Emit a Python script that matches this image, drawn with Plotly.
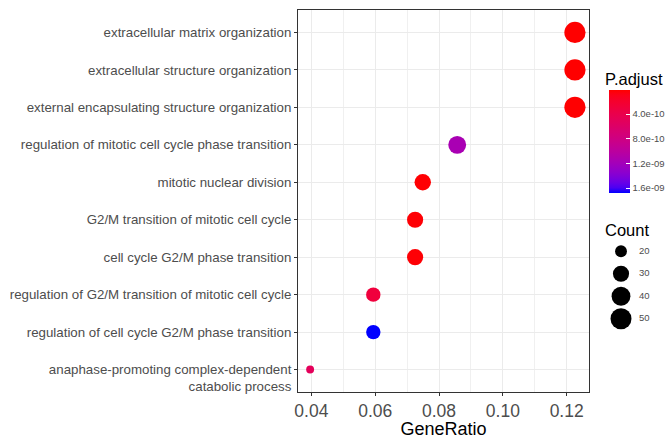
import numpy as np
import plotly.graph_objects as go

# ---------------- data ----------------
terms = [
    "extracellular matrix organization",
    "extracellular structure organization",
    "external encapsulating structure organization",
    "regulation of mitotic cell cycle phase transition",
    "mitotic nuclear division",
    "G2/M transition of mitotic cell cycle",
    "cell cycle G2/M phase transition",
    "regulation of G2/M transition of mitotic cell cycle",
    "regulation of cell cycle G2/M phase transition",
    "anaphase-promoting complex-dependent catabolic process",
]
term_labels = [
    "extracellular matrix organization",
    "extracellular structure organization",
    "external encapsulating structure organization",
    "regulation of mitotic cell cycle phase transition",
    "mitotic nuclear division",
    "G2/M transition of mitotic cell cycle",
    "cell cycle G2/M phase transition",
    "regulation of G2/M transition of mitotic cell cycle",
    "regulation of cell cycle G2/M phase transition",
    " <br>anaphase-promoting complex-dependent<br>catabolic process",
]
gene_ratio = [0.1226, 0.1226, 0.1226, 0.0857, 0.0749, 0.0725, 0.0725, 0.0594, 0.0594, 0.0396]
counts = [51, 51, 51, 36, 31, 30, 30, 25, 25, 17]
p_adjust = [1.0e-11, 1.1e-11, 1.2e-11, 1.15e-09, 2.0e-11, 2.5e-11, 2.5e-11, 3.0e-10, 1.68e-09, 5.0e-10]

x_ticks = [0.04, 0.06, 0.08, 0.10, 0.12]
x_tick_labels = ["0.04", "0.06", "0.08", "0.10", "0.12"]
cbar_ticks = [4.0e-10, 8.0e-10, 1.2e-09, 1.6e-09]
cbar_tick_labels = ["4.0e-10", "8.0e-10", "1.2e-09", "1.6e-09"]
size_legend_counts = [20, 30, 40, 50]

# ---------------- helpers (styling) ----------------
def _lin(c):
    c = c / 255.0
    return np.where(c <= 0.04045, c / 12.92, ((c + 0.055) / 1.055) ** 2.4)

def _unlin(c):
    c = np.where(c <= 0.0031308, 12.92 * c, 1.055 * np.power(np.clip(c, 0, None), 1 / 2.4) - 0.055)
    return np.clip(np.round(c * 255), 0, 255).astype(int)

M = np.array([[0.4124, 0.3576, 0.1805], [0.2126, 0.7152, 0.0722], [0.0193, 0.1192, 0.9505]])
MI = np.linalg.inv(M)
WHITE = np.array([0.95047, 1.0, 1.08883])

def rgb2lab(rgb):
    xyz = M @ _lin(np.array(rgb, float)) / WHITE
    f = np.where(xyz > 0.008856, np.cbrt(xyz), 7.787 * xyz + 16 / 116)
    return np.array([116 * f[1] - 16, 500 * (f[0] - f[1]), 200 * (f[1] - f[2])])

def lab2rgb(lab):
    fy = (lab[0] + 16) / 116
    fx = fy + lab[1] / 500
    fz = fy - lab[2] / 200
    f = np.array([fx, fy, fz])
    xyz = np.where(f ** 3 > 0.008856, f ** 3, (f - 16 / 116) / 7.787) * WHITE
    return _unlin(MI @ xyz)

lab_red, lab_blue = rgb2lab([255, 0, 0]), rgb2lab([0, 0, 255])
colorscale = []
for t in np.linspace(0, 1, 21):
    # t=0 -> highest p (blue), t=1 -> lowest p (red)
    r, g, b = lab2rgb(lab_blue + (lab_red - lab_blue) * t)
    colorscale.append([float(t), f"rgb({r},{g},{b})"])

cmin_c, cmax_c = min(counts), max(counts)
def dot_diam(c):
    return (3 + 5 * np.sqrt((c - cmin_c) / (cmax_c - cmin_c))) * 2.65

# ---------------- layout geometry ----------------
W, H = 671, 439
ML, MB = 298, 47
PW, PH = W - ML, H - MB
panel_right, panel_top = 589, 10
def px_x(px):
    return (px - ML) / PW
def px_y(py):
    return (PH - py) / PH

FONT = "Liberation Sans, Arial, Helvetica, sans-serif"

fig = go.Figure()
fig.add_trace(go.Scatter(
    x=gene_ratio, y=terms, mode="markers",
    marker=dict(
        size=[dot_diam(c) for c in counts], sizemode="diameter",
        color=[-p for p in p_adjust],
        cmin=-max(p_adjust), cmax=-min(p_adjust),
        colorscale=colorscale, line=dict(width=0), opacity=1,
        colorbar=dict(
            tickvals=[-v for v in cbar_ticks], ticktext=cbar_tick_labels,
            tickfont=dict(size=9.5, color="#4d4d4d", family=FONT),
            ticks="inside", ticklen=4, tickcolor="white", tickwidth=1,
            thickness=21, thicknessmode="pixels",
            len=103, lenmode="pixels",
            x=px_x(609), xanchor="left", xpad=0,
            y=px_y(141.5), yanchor="middle", ypad=0,
            outlinewidth=0,
        ),
    ),
    showlegend=False, hoverinfo="x+y",
))

# size legend
fig.add_trace(go.Scatter(
    x=[0] * len(size_legend_counts), y=list(range(len(size_legend_counts))),
    mode="markers",
    marker=dict(size=[dot_diam(c) for c in size_legend_counts], sizemode="diameter",
                color="#000000", opacity=1, line=dict(width=0)),
    xaxis="x2", yaxis="y2", showlegend=False, hoverinfo="skip",
))
fig.add_trace(go.Scatter(
    x=[0.36] * len(size_legend_counts), y=list(range(len(size_legend_counts))),
    mode="text", text=[str(c) for c in size_legend_counts], textposition="middle right",
    textfont=dict(size=9.5, color="#4d4d4d", family=FONT),
    xaxis="x2", yaxis="y2", showlegend=False, hoverinfo="skip",
))

fig.update_layout(
    width=W, height=H,
    margin=dict(l=ML, r=0, t=0, b=MB, autoexpand=False),
    paper_bgcolor="white", plot_bgcolor="rgba(0,0,0,0)",
    font=dict(family=FONT),
    xaxis=dict(
        domain=[0, px_x(panel_right)], range=[0.0358, 0.127],
        tickvals=x_ticks, ticktext=x_tick_labels,
        tickfont=dict(size=17.5, color="#4d4d4d"),
        ticks="outside", ticklen=3, tickcolor="#333333",
        showgrid=True, gridcolor="#ebebeb", gridwidth=1,
        minor=dict(dtick=0.01, tick0=0.0, showgrid=True, gridcolor="#f0f0f0", gridwidth=0.7, ticks=""),
        showline=True, linecolor="#333333", linewidth=1, mirror=True,
        zeroline=False,
        title=dict(text="GeneRatio", font=dict(size=18, color="#000"), standoff=5),
        anchor="y",
    ),
    yaxis=dict(
        domain=[0, px_y(panel_top)],
        type="category", categoryorder="array", categoryarray=terms[::-1],
        tickmode="array", tickvals=terms, ticktext=term_labels,
        range=[-0.6, len(terms) - 0.4],
        tickfont=dict(size=13.3, color="#4d4d4d"),
        ticks="outside", ticklen=3, tickcolor="#333333",
        showgrid=True, gridcolor="#ebebeb", gridwidth=1,
        showline=True, linecolor="#333333", linewidth=1, mirror=True,
        zeroline=False, anchor="x",
    ),
    xaxis2=dict(domain=[px_x(571), 1.0], range=[-1, 1], visible=False, anchor="y2"),
    yaxis2=dict(domain=[px_y(330), px_y(240)], range=[len(size_legend_counts) - 0.5, -0.5],
                visible=False, anchor="x2"),
    annotations=[
        dict(text="P.adjust", xref="paper", yref="paper", x=px_x(603), y=px_y(79),
             xanchor="left", yanchor="middle", showarrow=False,
             font=dict(size=16.5, color="#000", family=FONT)),
        dict(text="Count", xref="paper", yref="paper", x=px_x(603), y=px_y(230),
             xanchor="left", yanchor="middle", showarrow=False,
             font=dict(size=16.5, color="#000", family=FONT)),
    ],
)

fig.write_html("out.html", config={"displayModeBar": False},
               post_script="document.body.style.margin='0';")
